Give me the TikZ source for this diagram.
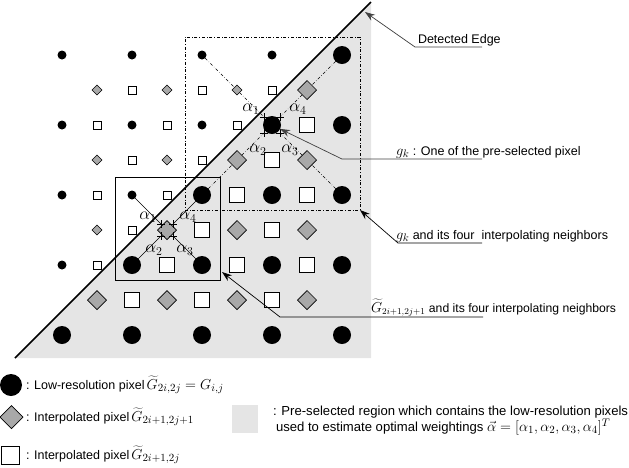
\documentclass[tikz,border=0pt]{standalone}
\usepackage{fontspec}
\setmainfont{Liberation Sans}
\usetikzlibrary{shapes.geometric,arrows.meta,calc}
\definecolor{diagray}{gray}{0.66}
\definecolor{regiongray}{gray}{0.9}
\newcommand\plusmk[1]{\draw[line width=0.5pt] ($(#1)+(-4,0)$) -- ($(#1)+(4,0)$) ($(#1)+(0,-4)$) -- ($(#1)+(0,4)$);}
\newcommand\mth[1]{{\fontsize{15}{15}\selectfont$#1$}}
\newcommand\mths[1]{{\fontsize{13.5}{15}\selectfont$#1$}}
\begin{document}
\begin{tikzpicture}[x=1pt,y=-1pt,
  every node/.style={inner sep=0pt,outer sep=0pt},
  bigdot/.style={circle,fill=black,minimum size=18pt},
  smalldot/.style={circle,fill=black,minimum size=9pt},
  bigsq/.style={rectangle,draw=black,fill=white,line width=0.8pt,minimum size=15pt},
  smallsq/.style={rectangle,draw=black,fill=white,line width=0.7pt,minimum size=8pt},
  bigdia/.style={diamond,draw=black,fill=diagray,line width=0.7pt,minimum size=19pt},
  smalldia/.style={diamond,draw=black,fill=diagray,line width=0.5pt,minimum size=10pt},
  dd/.style={dash dot,line width=0.5pt},
  thinline/.style={line width=0.6pt},
  lbl/.style={font=\fontsize{12.5}{15}\selectfont},
  alab/.style={font=\fontsize{17}{17}\selectfont},
  ann/.style={line width=0.7pt,-{Stealth[length=10pt,width=7pt]}},
]
\useasboundingbox (0,0) rectangle (629,467);
% shaded region and edge
\fill[regiongray] (15,358) -- (371,358) -- (371,2) -- cycle;
\coordinate (ea) at (15,358);
\coordinate (eb) at (371,2);
\draw[line width=1.6pt] (ea) -- (eb);
% rectangles
\node[draw,dd,minimum width=175pt,minimum height=173pt] (region) at (272.5,123.5) {};
\node[draw,thinline,minimum width=105pt,minimum height=103pt] (box) at (167.5,228.5) {};
% dots
\foreach \c/\r in {0/0,2/0,4/0,6/0,0/2,2/2,4/2,0/4,2/4,0/6}
  \node[smalldot] (d\c\r) at ({62+35*\c},{55+35*\r}) {};
\foreach \c/\r in {8/0,6/2,8/2,4/4,6/4,8/4,2/6,4/6,6/6,8/6,0/8,2/8,4/8,6/8,8/8}
  \node[bigdot] (d\c\r) at ({62+35*\c},{55+35*\r}) {};
% squares
\foreach \c/\r in {1/2,3/2,5/2,1/4,3/4,1/6,2/1,4/1,6/1,2/3,4/3,2/5}
  \node[smallsq] (s\c\r) at ({62+35*\c},{55+35*\r}) {};
\foreach \c/\r in {7/2,5/4,7/4,3/6,5/6,7/6,6/3,4/5,6/5,2/7,4/7,6/7}
  \node[bigsq] (s\c\r) at ({62+35*\c},{55+35*\r}) {};
% diamonds
\foreach \c/\r in {1/1,3/1,5/1,1/3,3/3,1/5}
  \node[smalldia] (k\c\r) at ({62+35*\c},{55+35*\r}) {};
\foreach \c/\r in {7/1,5/3,7/3,3/5,5/5,7/5,1/7,3/7,5/7,7/7}
  \node[bigdia] (k\c\r) at ({62+35*\c},{55+35*\r}) {};
% g_k neighbourhood
\coordinate (ma) at ($(d62)+(-8,-8)$);
\coordinate (mb) at ($(d62)+(8,-8)$);
\coordinate (mc) at ($(d62)+(-8,8)$);
\coordinate (md) at ($(d62)+(8,8)$);
\draw[dd] (d40) -- (k51); \draw[dd] (k51) -- (ma);
\draw[dd] (d80) -- (k71); \draw[dd] (k71) -- (mb);
\draw[dd] (d44) -- (k53); \draw[dd] (k53) -- (mc);
\draw[dd] (d84) -- (k73); \draw[dd] (k73) -- (md);
\plusmk{ma}\plusmk{mb}\plusmk{mc}\plusmk{md}
\node[alab] (a1) at (251,109) {$\alpha_1$};
\node[alab] (a4) at (298,109) {$\alpha_4$};
\node[alab] (a2) at (258,150) {$\alpha_2$};
\node[alab] (a3) at (290,150) {$\alpha_3$};
% interpolated pixel neighbourhood
\coordinate (na) at ($(k35)+(-6,-6)$);
\coordinate (nb) at ($(k35)+(6,-6)$);
\coordinate (nc) at ($(k35)+(-6,6)$);
\coordinate (nd) at ($(k35)+(6,6)$);
\draw[thinline] (d24) -- (na);
\draw[thinline] (d44) -- (nb);
\draw[thinline] (d26) -- (nc);
\draw[thinline] (d46) -- (nd);
\plusmk{na}\plusmk{nb}\plusmk{nc}\plusmk{nd}
\node[alab] (b1) at (148,217) {$\alpha_1$};
\node[alab] (b4) at (188,217) {$\alpha_4$};
\node[alab] (b2) at (154,250) {$\alpha_2$};
\node[alab] (b3) at (185,250) {$\alpha_3$};
% annotations
\node[lbl,anchor=base west] (tEdge) at (418,43) {Detected Edge};
\coordinate (e1) at (415,47); \coordinate (e2) at (482,47);
\coordinate (ept) at (365,12);
\draw[ann,draw=black!75] (e2) -- (e1) -- (ept);
\node[lbl,anchor=base west] (tGk) at (396,155) {\mth{g_k} : One of the pre-selected pixel};
\coordinate (f1) at (342,159); \coordinate (f2) at (482,159);
\draw[ann,draw=black!75] (f2) -- (f1) -- (d62);
\node[lbl,anchor=base west] (tReg) at (396,239) {\mth{g_k} and its four\ \ interpolating neighbors};
\coordinate (h1) at (398,243); \coordinate (h2) at (482,243);
\draw[ann] (h2) -- (h1) -- (region.south east);
\node[lbl,anchor=base west,font=\fontsize{12.2}{15}\selectfont] (tBox) at (371,312) {\mths{\widetilde{G}_{2i+1,2j+1}} and its four interpolating neighbors};
\coordinate (j1) at (280,317); \coordinate (j2) at (483,317);
\draw[ann] (j2) -- (j1) -- ([shift={(2,-8)}]box.south east);
% legend
\node[circle,fill=black,minimum size=22pt] (legDot) at (11,385) {};
\node[lbl,anchor=base west] (legDotTxt) at (26,389) {: Low-resolution pixel\,\mth{\widetilde{G}_{2i,2j}=G_{i,j}}};
\node[diamond,draw=black,fill=diagray,line width=0.7pt,minimum size=23pt] (legDia) at (11.5,417) {};
\node[lbl,anchor=base west] (legDiaTxt) at (26,421) {: Interpolated pixel\,\mth{\widetilde{G}_{2i+1,2j+1}}};
\node[rectangle,draw=black,fill=white,line width=0.8pt,minimum size=18pt] (legSq) at (10,455) {};
\node[lbl,anchor=base west] (legSqTxt) at (26,459) {: Interpolated pixel\,\mth{\widetilde{G}_{2i+1,2j}}};
\node[fill=regiongray,minimum width=26pt,minimum height=28pt] (legReg) at (245,419) {};
\node[anchor=west,align=left,font=\fontsize{13.1}{15}\selectfont] (legRegTxt) at (273,420.5)
  {: Pre-selected region which contains the low-resolution pixels\\
   \hspace{3pt}used to estimate optimal weightings \mth{\vec{\alpha}=[\alpha_1,\alpha_2,\alpha_3,\alpha_4]^T}};
\end{tikzpicture}
\end{document}
